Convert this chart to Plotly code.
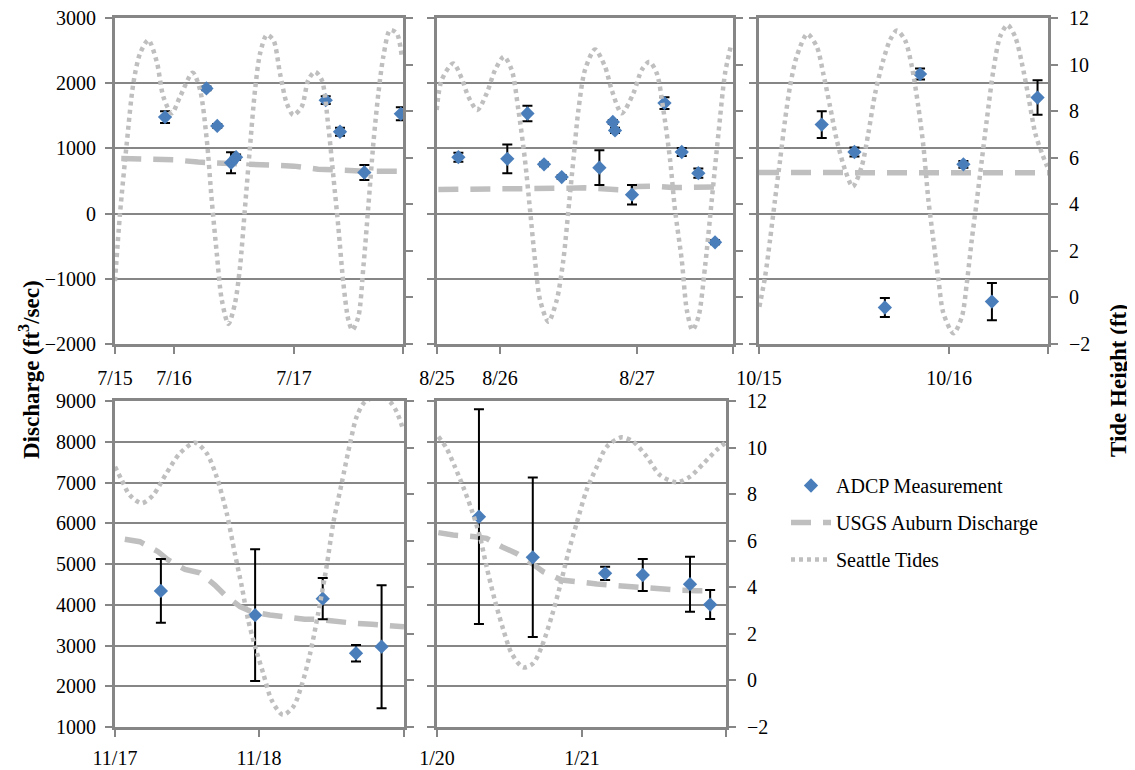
import plotly.graph_objects as go

# ---------------- DATA ----------------
# July (x = day of month)
jul_adcp_day = [15.925, 16.27, 16.36, 16.475, 16.517, 17.264, 17.383, 17.586, 17.89]
jul_adcp_q = [1480, 1920, 1345, 780, 865, 1740, 1255, 630, 1530]
jul_adcp_err = [90, 30, 30, 160, 40, 60, 60, 115, 100]
jul_usgs_day = [15.56, 15.8, 16.0, 16.2, 16.4, 16.6, 16.8, 17.0, 17.2, 17.4, 17.6, 17.86]
jul_usgs_q = [845, 835, 825, 790, 775, 768, 750, 728, 680, 660, 650, 650]
jul_tide_day = [15.508, 15.55, 15.606, 15.661, 15.717, 15.786, 15.856, 15.911, 15.981, 16.05,
                16.156, 16.217, 16.273, 16.314, 16.356, 16.398, 16.453, 16.508, 16.55, 16.592,
                16.633, 16.675, 16.717, 16.773, 16.828, 16.883, 16.939, 16.994, 17.064, 17.119,
                17.175, 17.231, 17.286, 17.328, 17.369, 17.411, 17.453, 17.486, 17.536, 17.578,
                17.619, 17.661, 17.703, 17.744, 17.8, 17.856, 17.898]
jul_tide_ft = [0.7, 3.61, 6.62, 9.2, 10.48, 11.05, 10.12, 8.62, 7.91, 8.62,
               9.65, 8.91, 6.76, 4.18, 1.9, -0.11, -1.14, -0.25, 1.32, 3.9,
               6.47, 8.91, 10.48, 11.27, 11.05, 9.62, 8.34, 7.83, 8.19, 9.34,
               9.69, 9.34, 7.33, 5.18, 3.04, 0.61, -0.97, -1.4, -0.83, 1.32,
               3.9, 6.62, 8.77, 10.34, 11.48, 11.34, 10.34]

# August
aug_adcp_day = [25.696, 26.053, 26.2, 26.321, 26.45, 26.725, 26.823, 26.839, 26.963, 27.2, 27.326, 27.447, 27.569]
aug_adcp_q = [865, 840, 1535, 755, 560, 705, 1405, 1275, 290, 1695, 945, 620, -440]
aug_adcp_err = [70, 220, 120, 30, 30, 265, 30, 40, 150, 90, 60, 70, 30]
aug_usgs_day = [25.55, 25.9, 26.15, 26.3, 26.5, 26.62, 26.75, 26.88, 27.0, 27.13, 27.26, 27.45, 27.64]
aug_usgs_q = [370, 370, 370, 380, 390, 395, 370, 365, 415, 420, 400, 408, 410]
aug_tide_day = [25.538, 25.574, 25.659, 25.72, 25.769, 25.834, 25.903, 25.964, 26.029, 26.085,
                26.134, 26.182, 26.219, 26.255, 26.292, 26.353, 26.414, 26.462, 26.499, 26.535,
                26.572, 26.62, 26.693, 26.766, 26.815, 26.888, 26.973, 27.034, 27.09, 27.144,
                27.192, 27.241, 27.277, 27.326, 27.363, 27.404, 27.448, 27.496, 27.545, 27.594,
                27.642, 27.686]
aug_tide_ft = [8.05, 9.34, 10.05, 9.41, 8.62, 8.05, 8.77, 9.77, 10.34, 9.77,
               8.05, 5.9, 3.75, 1.61, -0.11, -1.04, -0.11, 1.61, 3.75, 5.9,
               8.05, 9.77, 10.65, 9.91, 8.91, 7.91, 8.77, 9.77, 10.12, 9.62,
               8.05, 5.9, 3.75, 1.61, -0.54, -1.4, -0.83, 1.32, 4.18, 7.05,
               9.62, 10.84]

# October
oct_adcp_day = [15.33, 15.502, 15.662, 15.847, 16.075, 16.225, 16.465]
oct_adcp_q = [1365, 945, -1440, 2140, 755, -1350, 1780]
oct_adcp_err = [205, 70, 145, 85, 50, 285, 265]
oct_usgs_day = [15.0, 15.3, 15.6, 15.9, 16.2, 16.52]
oct_usgs_q = [630, 628, 625, 622, 622, 625]
oct_tide_day = [15.002, 15.032, 15.058, 15.084, 15.111, 15.137, 15.163, 15.198, 15.254, 15.304,
                15.338, 15.374, 15.409, 15.453, 15.493, 15.54, 15.575, 15.611, 15.654, 15.689,
                15.725, 15.768, 15.804, 15.838, 15.865, 15.891, 15.917, 15.944, 15.97, 16.023,
                16.067, 16.093, 16.119, 16.146, 16.172, 16.198, 16.233, 16.268, 16.307, 16.347,
                16.383, 16.417, 16.453, 16.488, 16.516]
oct_tide_ft = [-0.4, 0.89, 2.47, 4.18, 5.9, 7.62, 9.05, 10.34, 11.31, 10.77,
               9.62, 8.19, 6.76, 5.47, 4.76, 5.62, 7.05, 8.77, 10.2, 11.05,
               11.46, 11.05, 9.91, 8.19, 6.47, 4.18, 2.47, 0.75, -0.68, -1.54,
               -0.83, 0.61, 2.47, 4.18, 5.9, 7.62, 9.77, 11.2, 11.7, 11.2,
               10.05, 8.62, 7.05, 6.19, 5.62]

# November
nov_adcp_day = [17.72, 17.989, 18.182, 18.277, 18.35]
nov_adcp_q = [4340, 3745, 4150, 2810, 2970]
nov_adcp_err = [780, 1615, 505, 205, 1510]
nov_usgs_day = [17.617, 17.66, 17.712, 17.741, 17.789, 17.831, 17.874, 17.903, 17.946, 17.979,
                18.031, 18.079, 18.131, 18.165, 18.222, 18.274, 18.322, 18.365, 18.414]
nov_usgs_q = [5606, 5547, 5302, 5098, 4865, 4784, 4485, 4239, 3952, 3829,
              3748, 3692, 3643, 3643, 3584, 3544, 3520, 3503, 3461]
nov_tide_day = [17.589, 17.608, 17.631, 17.665, 17.698, 17.736, 17.774, 17.817, 17.851, 17.879,
                17.908, 17.931, 17.951, 17.969, 17.989, 18.012, 18.036, 18.068, 18.098, 18.122,
                18.146, 18.169, 18.193, 18.212, 18.236, 18.26, 18.279, 18.303, 18.346, 18.374,
                18.393, 18.412]
nov_tide_ft = [9.18, 8.61, 7.96, 7.61, 7.96, 8.9, 9.75, 10.21, 9.75, 8.75,
               7.18, 5.46, 4.03, 2.6, 1.45, 0.31, -0.84, -1.48, -1.13, -0.2,
               1.16, 2.88, 4.89, 6.75, 8.46, 10.18, 11.33, 11.97, 12.2, 11.97,
               11.54, 10.75]

# January
jan_adcp_day = [20.688, 20.851, 21.07, 21.184, 21.327, 21.388]
jan_adcp_q = [6160, 5165, 4770, 4730, 4505, 4005]
jan_adcp_err = [2635, 1955, 165, 395, 675, 355]
jan_usgs_day = [20.565, 20.61, 20.676, 20.711, 20.757, 20.802, 20.848, 20.883, 20.938, 20.974,
                21.045, 21.085, 21.145, 21.191, 21.246, 21.287, 21.348, 21.398]
jan_usgs_q = [5770, 5710, 5670, 5630, 5425, 5260, 5015, 4810, 4605, 4565,
              4510, 4485, 4445, 4430, 4380, 4360, 4345, 4345]
jan_tide_day = [20.565, 20.59, 20.615, 20.64, 20.666, 20.691, 20.711, 20.736, 20.762, 20.787,
                20.822, 20.852, 20.878, 20.908, 20.933, 20.958, 20.984, 21.014, 21.045, 21.075,
                21.12, 21.155, 21.196, 21.236, 21.287, 21.327, 21.368, 21.408, 21.438]
jan_tide_ft = [10.47, 9.97, 9.18, 8.32, 7.32, 6.17, 4.89, 3.45, 2.17, 1.16,
               0.56, 0.73, 1.45, 2.74, 4.03, 5.46, 6.75, 8.18, 9.18, 10.04,
               10.44, 10.25, 9.61, 8.82, 8.51, 8.75, 9.32, 9.9, 10.25]

# axis settings per panel (ranges / tick labels)
x_ranges = [[15.508, 17.908], [25.54, 27.70], [15.0, 16.52], [17.589, 18.414], [20.561, 21.436]]
x_tickvals = [[15.508, 16, 17], [25.54, 26, 27], [15.0, 16], [17.589, 18], [20.561, 21]]
x_ticktext = [["7/15", "7/16", "7/17"], ["8/25", "8/26", "8/27"], ["10/15", "10/16"],
              ["11/17", "11/18"], ["1/20", "1/21"]]
x_edge_ticks = [[17.908], [27.70], [16.52], [18.414], [21.436]]
q_ranges = [[-2000, 3000], [-2000, 3000], [-2000, 3000], [1000, 9000], [1000, 9000]]
tide_range = [-2, 12]

# ---------------- STYLE ----------------
PAGE_W, PAGE_H = 1135, 770
OFF = 8  # default page body margin
W, H = PAGE_W - OFF, PAGE_H - OFF
FONT = "Liberation Serif"
GRID = "#868686"
BLUE = "#4A7EBB"
LGRAY = "#BFBFBF"
TICK_SIZE = 20


def px(x):
    return (x - OFF) / W


def py(y):
    return 1 - (y - OFF) / H


boxes = [(115, 403, 18, 344), (437, 733, 18, 344), (759, 1048, 18, 344),
         (115, 404, 401, 727), (437, 726, 401, 727)]

panels = [
    (jul_adcp_day, jul_adcp_q, jul_adcp_err, jul_usgs_day, jul_usgs_q, jul_tide_day, jul_tide_ft),
    (aug_adcp_day, aug_adcp_q, aug_adcp_err, aug_usgs_day, aug_usgs_q, aug_tide_day, aug_tide_ft),
    (oct_adcp_day, oct_adcp_q, oct_adcp_err, oct_usgs_day, oct_usgs_q, oct_tide_day, oct_tide_ft),
    (nov_adcp_day, nov_adcp_q, nov_adcp_err, nov_usgs_day, nov_usgs_q, nov_tide_day, nov_tide_ft),
    (jan_adcp_day, jan_adcp_q, jan_adcp_err, jan_usgs_day, jan_usgs_q, jan_tide_day, jan_tide_ft),
]

fig = go.Figure()
layout = {}
for i, (ad, aq, ae, ud, uq, td, tf) in enumerate(panels):
    n = i + 1
    xs = "x" if n == 1 else f"x{n}"
    yp = "y" if n == 1 else f"y{n}"
    ys = f"y{n + 5}"
    first = (n == 1)
    fig.add_trace(go.Scatter(
        x=ud, y=uq, xaxis=xs, yaxis=yp, mode="lines", name="USGS Auburn Discharge",
        legendgroup="usgs", line=dict(color=LGRAY, width=5.5, dash="20px,12px"),
        showlegend=first, legendrank=2, hoverinfo="skip"))
    fig.add_trace(go.Scatter(
        x=ad, y=aq, xaxis=xs, yaxis=yp, mode="markers", name="ADCP Measurement",
        legendgroup="adcp", marker=dict(symbol="diamond", size=11, color=BLUE),
        error_y=dict(type="data", array=ae, visible=True, color="black", thickness=2, width=5),
        showlegend=first, legendrank=1))
    fig.add_trace(go.Scatter(
        x=td, y=tf, xaxis=xs, yaxis=ys, mode="lines", name="Seattle Tides",
        legendgroup="tide",
        line=dict(color=LGRAY, width=4.5, dash="4px,4px", shape="spline", smoothing=0.8),
        showlegend=first, legendrank=3, hoverinfo="skip"))

    x0, x1, yt, yb = boxes[i]
    xdom = [px(x0), px(x1)]
    ydom = [py(yb), py(yt)]
    common = dict(showline=True, linecolor=GRID, linewidth=3, ticks="outside", ticklen=7,
                  tickwidth=2, tickcolor=GRID, zeroline=False, automargin=False,
                  ticklabeloverflow="allow",
                  tickfont=dict(family=FONT, size=TICK_SIZE, color="black"))
    layout["xaxis" if n == 1 else f"xaxis{n}"] = dict(
        domain=xdom, range=x_ranges[i], tickmode="array", tickvals=x_tickvals[i],
        ticktext=x_ticktext[i], showgrid=False, mirror=True, anchor=yp,
        minor=dict(tickmode="array", tickvals=x_edge_ticks[i], ticks="outside", ticklen=7,
                   tickwidth=2, tickcolor=GRID, showgrid=False),
        ticklabelstandoff=(7 if n <= 3 else 4), **common)
    layout["yaxis" if n == 1 else f"yaxis{n}"] = dict(
        domain=ydom, range=q_ranges[i], dtick=1000, tick0=0, showgrid=True,
        gridcolor=GRID, gridwidth=2, anchor=xs, showticklabels=(n in (1, 4)),
        ticklabelstandoff=5, **common)
    layout[f"yaxis{n + 5}"] = dict(
        overlaying=yp, side="right", anchor=xs, range=tide_range, dtick=2, tick0=0,
        showgrid=False, showticklabels=(n in (3, 5)), ticklabelstandoff=7, **common)

fig.update_layout(**layout)
fig.update_layout(
    width=W, height=H, autosize=False,
    margin=dict(l=0, r=0, t=0, b=0, pad=0, autoexpand=False),
    paper_bgcolor="white", plot_bgcolor="white",
    font=dict(family=FONT, size=20, color="black"),
    legend=dict(x=px(786), y=py(466), xanchor="left", yanchor="top",
                font=dict(family=FONT, size=20), bgcolor="rgba(0,0,0,0)",
                itemwidth=40, tracegroupgap=8, traceorder="grouped"),
    annotations=[
        dict(text="<b>Discharge (ft<sup>3</sup>/sec)</b>", x=px(29), y=py(370),
             xref="paper", yref="paper", textangle=-90, showarrow=False,
             xanchor="center", yanchor="middle",
             font=dict(family=FONT, size=23, color="black")),
        dict(text="<b>Tide Height (ft)</b>", x=px(1119), y=py(381),
             xref="paper", yref="paper", textangle=-90, showarrow=False,
             xanchor="center", yanchor="middle",
             font=dict(family=FONT, size=23, color="black")),
    ],
)

fig.write_html("out.html")
